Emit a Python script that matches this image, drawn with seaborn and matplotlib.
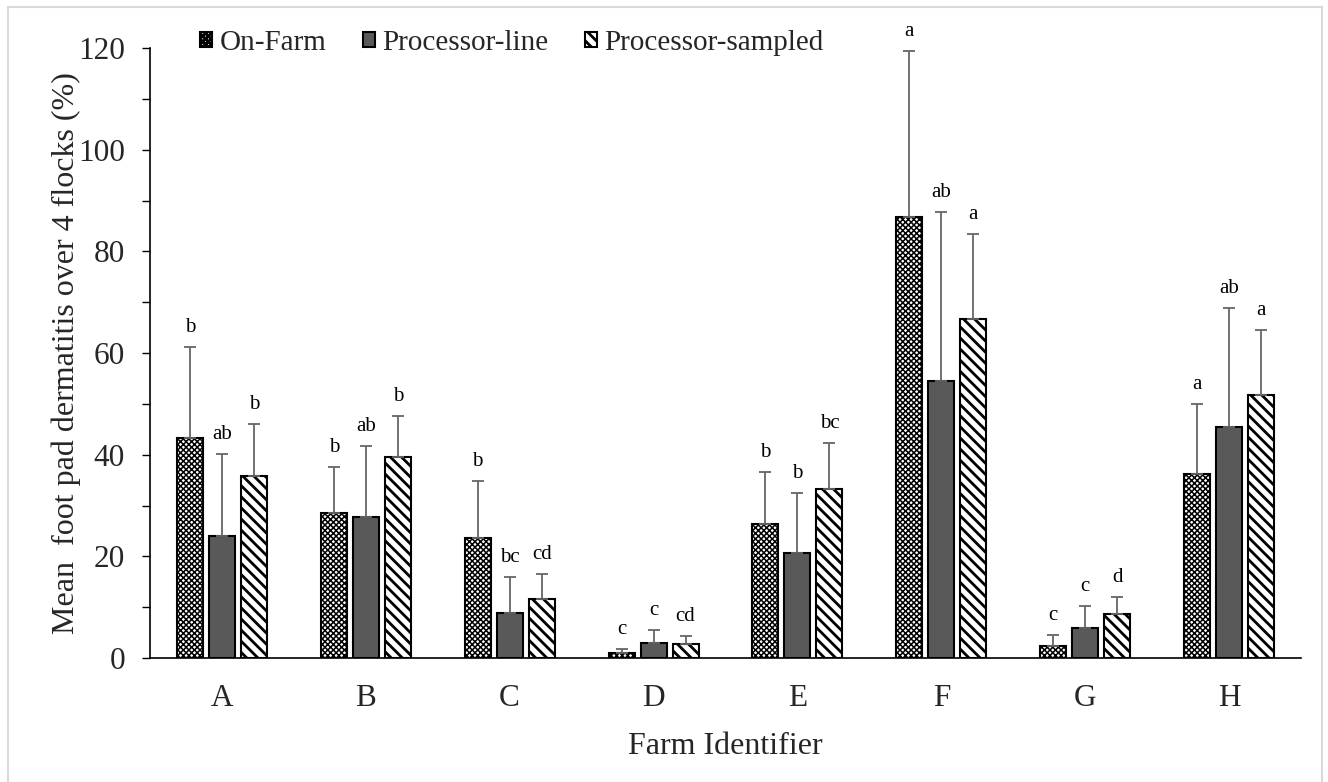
import matplotlib
matplotlib.use("Agg")
import matplotlib.pyplot as plt
from matplotlib.lines import Line2D
import seaborn as sns
import pandas as pd
import numpy as np

farms = ["A", "B", "C", "D", "E", "F", "G", "H"]
series = ["On-Farm", "Processor-line", "Processor-sampled"]

on_farm = [43.3, 28.5, 23.6, 1.0, 26.4, 86.8, 2.4, 36.2]
on_farm_err = [17.9, 9.1, 11.2, 0.8, 10.1, 32.6, 2.1, 13.8]
proc_line = [24.0, 27.7, 8.8, 2.9, 20.6, 54.4, 5.9, 45.4]
proc_line_err = [16.1, 14.0, 7.1, 2.6, 11.9, 33.3, 4.3, 23.4]
proc_sampled = [35.8, 39.5, 11.6, 2.8, 33.3, 66.6, 8.6, 51.7]
proc_sampled_err = [10.2, 8.1, 4.9, 1.5, 8.9, 16.8, 3.4, 12.8]

letters_on_farm = ["b", "b", "b", "c", "b", "a", "c", "a"]
letters_line = ["ab", "ab", "bc", "c", "b", "ab", "c", "ab"]
letters_sampled = ["b", "b", "cd", "cd", "bc", "a", "d", "a"]

values = [on_farm, proc_line, proc_sampled]
errors = [on_farm_err, proc_line_err, proc_sampled_err]
letters = [letters_on_farm, letters_line, letters_sampled]

rows = []
for s, vals in zip(series, values):
    for f, v in zip(farms, vals):
        rows.append({"Farm": f, "Series": s, "Value": v})
df = pd.DataFrame(rows)

sns.set_style("white")
plt.rcParams["font.family"] = ["Liberation Serif", "DejaVu Serif"]
plt.rcParams["hatch.linewidth"] = 2.0

fig = plt.figure(figsize=(13.28, 7.82), dpi=100)
ax = fig.add_axes([150 / 1328, 1 - 658 / 782, 1151 / 1328, 610 / 782])

palette = {"On-Farm": "white", "Processor-line": "#595959", "Processor-sampled": "white"}
sns.barplot(data=df, x="Farm", y="Value", hue="Series", order=farms, hue_order=series,
            palette=palette, width=0.667, gap=0.19, errorbar=None,
            edgecolor="black", linewidth=1.5, ax=ax, legend=False)

hatches = ["xxxxxx", "", "\\\\\\"]
hatch_lw = [1.1, 1.4, 2.0]
for cont, h, hl in zip(ax.containers, hatches, hatch_lw):
    for bar in cont:
        bar.set_hatch(h)
        if hasattr(bar, "set_hatch_linewidth"):
            bar.set_hatch_linewidth(hl)

for cont, vals, errs, labs in zip(ax.containers, values, errors, letters):
    xs = [b.get_x() + b.get_width() / 2 for b in cont]
    ax.errorbar(xs, vals, yerr=[np.zeros(len(vals)), errs], fmt="none",
                ecolor="#666666", elinewidth=1.3, capsize=4.3, capthick=1.3, zorder=1)
    for x, v, e, t in zip(xs, vals, errs, labs):
        ax.annotate(t, (x, v + e), xytext=(0, 11), textcoords="offset points",
                    ha="center", va="baseline", fontsize=15, color="black")

ax.set_xlim(-0.5, 7.5)
ax.set_ylim(0, 120)
ax.set_yticks(np.arange(0, 121, 20))
ax.set_yticks(np.arange(10, 121, 20), minor=True)
ax.tick_params(axis="y", which="both", direction="out", length=6, width=1, color="black",
               left=True, labelsize=22.5, pad=12)
ax.tick_params(axis="x", length=0, labelsize=22.5, pad=19)
for sp in ["top", "right"]:
    ax.spines[sp].set_visible(False)
for sp in ["left", "bottom"]:
    ax.spines[sp].set_color("black")
    ax.spines[sp].set_linewidth(1.2)

ax.set_ylabel("Mean  foot pad dermatitis over 4 flocks (%)", fontsize=23)
ax.yaxis.set_label_coords(-0.060, 0.5)
ax.set_xlabel("Farm Identifier", fontsize=23, va="top")
ax.xaxis.set_label_coords(0.5, -0.121)

leg = fig.legend(ax.containers, series, loc="center left", bbox_to_anchor=(200 / 1328, 1 - 43 / 782),
                 ncol=3, frameon=False, fontsize=21, handlelength=0.42, handleheight=0.42,
                 handletextpad=0.25, columnspacing=1.25, borderaxespad=0, borderpad=0)

for xy in [((8 / 1328, 8 / 1328), (0, 1 - 7 / 782)),
           ((8 / 1328, 1322 / 1328), (1 - 7 / 782, 1 - 7 / 782)),
           ((1322 / 1328, 1322 / 1328), (0, 1 - 7 / 782))]:
    fig.add_artist(Line2D(xy[0], xy[1], transform=fig.transFigure, color="#d9d9d9", lw=1.5))

fig.savefig("out.png", dpi=100, facecolor="white")
